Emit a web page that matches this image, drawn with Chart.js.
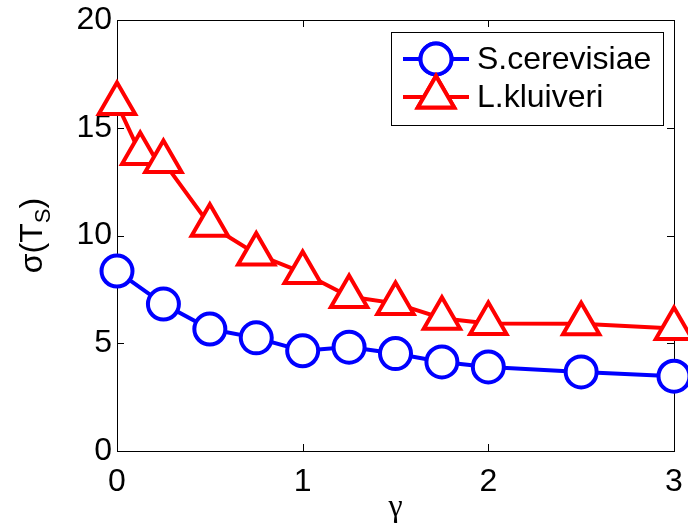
<!DOCTYPE html>
<html>
<head>
<meta charset="utf-8">
<script src="https://cdn.jsdelivr.net/npm/chart.js@4"></script>
<style>
  html, body { margin: 0; padding: 0; background: #fff; }
  #wrap { width: 688px; height: 531px; }
</style>
</head>
<body>
<div id="wrap"><canvas id="chart" width="688" height="531"></canvas></div>
<script>
// data
const gammaS = [0, 0.25, 0.5, 0.75, 1, 1.25, 1.5, 1.75, 2, 2.5, 3];
const sCerevisiae = [8.35, 6.82, 5.66, 5.25, 4.65, 4.82, 4.52, 4.13, 3.9, 3.67, 3.47];
const gammaL = [0, 0.125, 0.25, 0.5, 0.75, 1, 1.25, 1.5, 1.75, 2, 2.5, 3];
const lKluiveri = [16.12, 13.81, 13.43, 10.48, 9.14, 8.28, 7.17, 6.85, 6.16, 5.92, 5.91, 5.68];
const seriesNames = ["S.cerevisiae", "L.kluiveri"];
const xTicks = [0, 1, 2, 3];
const yTicks = [0, 5, 10, 15, 20];

const FONT = "'Liberation Sans', Arial, sans-serif";

function toPoints(xs, ys) {
  return xs.map((x, i) => ({ x, y: ys[i] }));
}

// box + inward ticks on all four sides, like matlab
const framePlugin = {
  id: "frame",
  beforeDatasetsDraw(chart) {
    const { ctx, chartArea: a, scales } = chart;
    const len = 7;
    ctx.save();
    ctx.strokeStyle = "#000";
    ctx.lineWidth = 1;
    ctx.strokeRect(a.left + 0.5, a.top + 0.5, a.right - a.left, a.bottom - a.top);
    ctx.beginPath();
    xTicks.forEach(t => {
      const px = Math.round(scales.x.getPixelForValue(t)) + 0.5;
      ctx.moveTo(px, a.bottom); ctx.lineTo(px, a.bottom - len);
      ctx.moveTo(px, a.top); ctx.lineTo(px, a.top + len);
    });
    yTicks.forEach(t => {
      const py = Math.round(scales.y.getPixelForValue(t)) + 0.5;
      ctx.moveTo(a.left, py); ctx.lineTo(a.left + len, py);
      ctx.moveTo(a.right, py); ctx.lineTo(a.right - len, py);
    });
    ctx.stroke();
    ctx.restore();
  }
};

// axis titles (sigma(T_S) needs a subscript) and the boxed legend
const extrasPlugin = {
  id: "extras",
  afterDraw(chart) {
    const { ctx, chartArea: a } = chart;
    ctx.save();
    ctx.fillStyle = "#000";

    // x title
    ctx.font = "32px 'Liberation Serif', serif";
    ctx.textAlign = "center";
    ctx.textBaseline = "alphabetic";
    ctx.fillText("γ", (a.left + a.right) / 2, 516);

    // y title, rotated
    ctx.save();
    ctx.translate(42, (a.top + a.bottom) / 2);
    ctx.rotate(-Math.PI / 2);
    ctx.textAlign = "left";
    const main = "32px " + FONT, sub = "22px " + FONT;
    ctx.font = main;
    const w1 = ctx.measureText("σ(T").width;
    const w3 = ctx.measureText(")").width;
    ctx.font = sub;
    const w2 = ctx.measureText("S").width;
    let x0 = -(w1 + w2 + w3) / 2;
    ctx.font = main;
    ctx.fillText("σ(T", x0, 0);
    ctx.font = sub;
    ctx.fillText("S", x0 + w1, 8);
    ctx.font = main;
    ctx.fillText(")", x0 + w1 + w2, 0);
    ctx.restore();

    // legend
    const box = { l: 391, t: 32, r: 663, b: 125 };
    ctx.fillStyle = "#fff";
    ctx.fillRect(box.l, box.t, box.r - box.l, box.b - box.t);
    ctx.strokeStyle = "#000";
    ctx.lineWidth = 1;
    ctx.strokeRect(box.l + 0.5, box.t + 0.5, box.r - box.l, box.b - box.t);
    const rows = [59, 97];
    chart.data.datasets.forEach((ds, i) => {
      const y = rows[i];
      ctx.strokeStyle = ds.borderColor;
      ctx.lineWidth = ds.borderWidth;
      ctx.beginPath();
      ctx.moveTo(403, y); ctx.lineTo(469, y);
      ctx.stroke();
      Chart.helpers.drawPoint(ctx, {
        pointStyle: ds.pointStyle,
        radius: ds.pointRadius,
        rotation: 0,
        borderWidth: ds.pointBorderWidth
      }, 436, y);
      ctx.fillStyle = "#fff";
      ctx.strokeStyle = ds.borderColor;
      ctx.lineWidth = ds.pointBorderWidth;
      ctx.fill();
      ctx.stroke();
      ctx.fillStyle = "#000";
      ctx.font = "32px " + FONT;
      ctx.textAlign = "left";
      ctx.textBaseline = "middle";
      ctx.fillText(seriesNames[i], 477, y + 1);
    });
    ctx.restore();
  }
};

new Chart(document.getElementById("chart"), {
  type: "line",
  data: {
    datasets: [
      {
        label: seriesNames[0],
        data: toPoints(gammaS, sCerevisiae),
        borderColor: "#0000ff",
        backgroundColor: "#ffffff",
        borderWidth: 4,
        pointStyle: "circle",
        pointRadius: 15.5,
        pointBorderWidth: 4,
        pointBackgroundColor: "#ffffff",
        pointBorderColor: "#0000ff",
        tension: 0,
        clip: false
      },
      {
        label: seriesNames[1],
        data: toPoints(gammaL, lKluiveri),
        borderColor: "#ff0000",
        backgroundColor: "#ffffff",
        borderWidth: 4,
        pointStyle: "triangle",
        pointRadius: 21,
        pointBorderWidth: 4,
        pointBackgroundColor: "#ffffff",
        pointBorderColor: "#ff0000",
        tension: 0,
        clip: false
      }
    ]
  },
  options: {
    responsive: false,
    animation: false,
    layout: { autoPadding: false, padding: { left: 0, right: 14, top: 20, bottom: 0 } },
    plugins: {
      legend: { display: false },
      tooltip: { enabled: false }
    },
    scales: {
      x: {
        type: "linear",
        min: 0,
        max: 3,
        afterBuildTicks: s => { s.ticks = xTicks.map(v => ({ value: v })); },
        afterFit: s => { s.height = 80; s.paddingLeft = 0; s.paddingRight = 0; },
        grid: { display: false, drawTicks: false },
        border: { display: false },
        ticks: { color: "#000", font: { size: 32, family: FONT }, padding: 12, maxRotation: 0 }
      },
      y: {
        type: "linear",
        min: 0,
        max: 20,
        afterBuildTicks: s => { s.ticks = yTicks.map(v => ({ value: v })); },
        afterFit: s => { s.width = 117; s.paddingTop = 0; s.paddingBottom = 0; },
        grid: { display: false, drawTicks: false },
        border: { display: false },
        ticks: { color: "#000", font: { size: 32, family: FONT }, padding: 5 }
      }
    }
  },
  plugins: [framePlugin, extrasPlugin]
});
</script>
</body>
</html>
